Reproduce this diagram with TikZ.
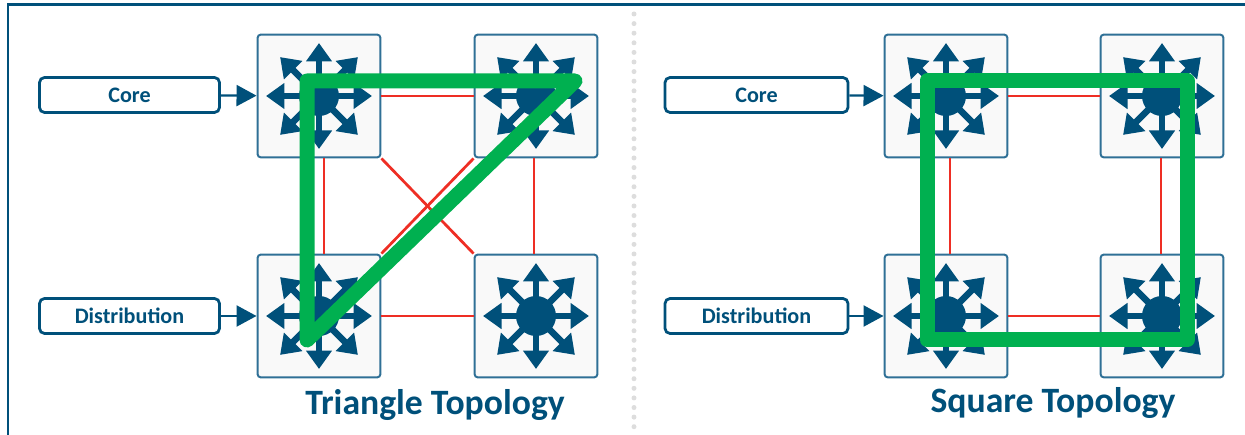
\documentclass[tikz,border=0pt]{standalone}
\usepackage{fontspec}
\setmainfont{Carlito}
\usetikzlibrary{arrows.meta}
\definecolor{topoblue}{HTML}{00507A}
\definecolor{boxblue}{HTML}{2F7096}
\definecolor{boxfill}{HTML}{F9F9F9}
\definecolor{linkred}{HTML}{EE2E24}
\definecolor{ringgreen}{HTML}{00B050}
\definecolor{dotgrey}{HTML}{DDDDDD}
\tikzset{
  switchbox/.style={draw=boxblue,fill=boxfill,line width=0.04cm,rounded corners=0.07cm,
    minimum width=2.46cm,minimum height=2.46cm,inner sep=0pt},
  rolebox/.style={draw=topoblue,fill=white,line width=0.055cm,rounded corners=0.1cm,
    minimum width=3.6cm,minimum height=0.7cm,inner sep=0pt,text=topoblue,
    font=\bfseries\fontsize{12.6}{14}\selectfont},
  rolearrow/.style={draw=topoblue,line width=0.045cm,-{Triangle[length=0.4cm,width=0.42cm]}},
  redlink/.style={draw=linkred,line width=0.055cm},
  greenring/.style={draw=ringgreen,line width=0.3cm,line join=round,line cap=round},
  toponame/.style={text=topoblue,inner sep=0pt,font=\bfseries\fontsize{20.3}{24}\selectfont},
  hubarrow/.style={draw=topoblue,line width=0.13cm,-{Triangle[length=0.37cm,width=0.5cm]}},
  hub/.pic={
    \foreach \a in {0,90,180,270} \draw[hubarrow] (0,0) -- (\a:53);
    \foreach \a in {45,135,225,315} \draw[hubarrow] (0,0) -- (\a:55);
    \fill[topoblue] (0,0) circle (0.4cm);
  }
}
\begin{document}
\begin{tikzpicture}[x=0.02cm,y=-0.02cm]
\useasboundingbox (0,0) rectangle (1245,435);
\draw[topoblue,line width=0.06cm] (8,435) -- (8,5) -- (1245,5);
\draw[dotgrey,line width=0.1cm,line cap=round,dash pattern=on 0pt off 0.192cm] (634,14) -- (634,432);
% triangle side
\node[switchbox] (lcore) at (319,96) {};
\node[switchbox] (rcore) at (536,96) {};
\node[switchbox] (ldist) at (319,316) {};
\node[switchbox] (rdist) at (536,316) {};
\draw[redlink] (lcore) -- (rcore);
\draw[redlink] (ldist) -- (rdist);
\draw[redlink] ([xshift=0.1cm]lcore.south) -- ([xshift=0.1cm]ldist.north);
\draw[redlink] ([xshift=-0.04cm]rcore.south) -- ([xshift=-0.04cm]rdist.north);
\draw[redlink] (lcore.south east) -- (rdist.north west);
\draw[redlink] (rcore.south west) -- (ldist.north east);
\foreach \n in {lcore,rcore,ldist,rdist} \pic at (\n) {hub};
\node[rolebox] (lcorename) at (129.5,95) {Core};
\node[rolebox] (ldistname) at (129.5,316) {Distribution};
\draw[rolearrow] (lcorename) -- (lcore);
\draw[rolearrow] (ldistname) -- (ldist);
\coordinate (ta) at (307,81);
\coordinate (tb) at (575,81);
\coordinate (tc) at (307,340);
\draw[greenring] (tc) -- (ta) -- (tb) -- cycle;
\node[toponame] (trianglename) at (435,405) {Triangle Topology};
% square side
\node[switchbox] (qcorea) at (946,96) {};
\node[switchbox] (qcoreb) at (1162,96) {};
\node[switchbox] (qdista) at (946,316) {};
\node[switchbox] (qdistb) at (1162,316) {};
\draw[redlink] (qcorea) -- (qcoreb);
\draw[redlink] (qdista) -- (qdistb);
\draw[redlink] ([xshift=0.08cm]qcorea.south) -- ([xshift=0.08cm]qdista.north);
\draw[redlink] ([xshift=-0.02cm]qcoreb.south) -- ([xshift=-0.02cm]qdistb.north);
\foreach \n in {qcorea,qcoreb,qdista,qdistb} \pic at (\n) {hub};
\node[rolebox,minimum width=3.66cm] (qcorename) at (756.5,95) {Core};
\node[rolebox,minimum width=3.66cm] (qdistname) at (756.5,316) {Distribution};
\draw[rolearrow] (qcorename) -- (qcorea);
\draw[rolearrow] (qdistname) -- (qdista);
\coordinate (sa) at (927,81);
\coordinate (sb) at (1187,81);
\coordinate (sc) at (1187,340);
\coordinate (sd) at (927,340);
\draw[greenring] (sa) -- (sb) -- (sc) -- (sd) -- cycle;
\node[toponame] (squarename) at (1053,403) {Square Topology};
\end{tikzpicture}
\end{document}
